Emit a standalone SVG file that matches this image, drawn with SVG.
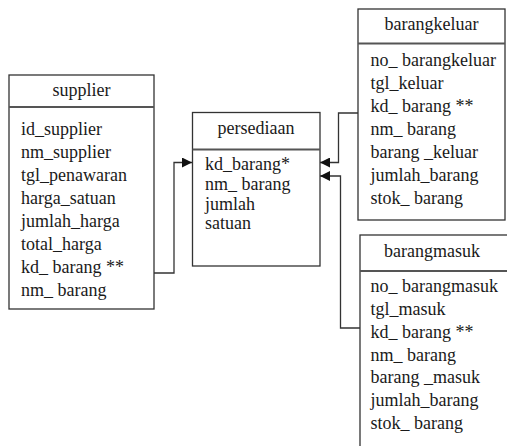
<svg xmlns="http://www.w3.org/2000/svg" width="507" height="446" viewBox="0 0 507 446">
<style>
.box{fill:#fff;stroke:#333;stroke-width:1.3}
.sep{stroke:#555;stroke-width:2}
.t{font-family:"Liberation Serif","Times New Roman",serif;font-size:18px;fill:#1a1a1a}
.h{text-anchor:middle}
.c{fill:none;stroke:#333;stroke-width:1.3}
</style>
<defs>
<marker id="arr" viewBox="0 0 10 10" refX="10" refY="5" markerWidth="10" markerHeight="10" markerUnits="userSpaceOnUse" orient="auto">
<path d="M0,0 L10,5 L0,10 Z" fill="#111"/>
</marker>
</defs>
<rect width="507" height="446" fill="#fff"/>
<g id="connectors">
<path class="c" d="M154,273 H174 V162.5 H192" marker-end="url(#arr)"/>
<path class="c" d="M358,113 H338.5 V162.5 H320" marker-end="url(#arr)"/>
<path class="c" d="M360,328 H340.5 V176 H320" marker-end="url(#arr)"/>
</g>
<g id="supplier">
<rect class="box" x="9" y="75" width="145" height="234"/>
<line class="sep" x1="9" y1="107" x2="154" y2="107"/>
<text class="t h" x="81.5" y="96">supplier</text>
<text class="t" x="21" y="135">id_supplier</text>
<text class="t" x="21" y="158">nm_supplier</text>
<text class="t" x="21" y="181">tgl_penawaran</text>
<text class="t" x="21" y="204">harga_satuan</text>
<text class="t" x="21" y="227">jumlah_harga</text>
<text class="t" x="21" y="250">total_harga</text>
<text class="t" x="21" y="273">kd_ barang **</text>
<text class="t" x="21" y="296">nm_ barang</text>
</g>
<g id="persediaan">
<rect class="box" x="192.5" y="112.5" width="127.5" height="153.5"/>
<line class="sep" x1="192.5" y1="149.5" x2="320" y2="149.5"/>
<text class="t h" x="256" y="134">persediaan</text>
<text class="t" x="205" y="170">kd_barang*</text>
<text class="t" x="205" y="190">nm_ barang</text>
<text class="t" x="205" y="209.5">jumlah</text>
<text class="t" x="205" y="229">satuan</text>
</g>
<g id="barangkeluar">
<rect class="box" x="358" y="9" width="147" height="211"/>
<line class="sep" x1="358" y1="43.5" x2="505" y2="43.5"/>
<text class="t h" x="431.5" y="30">barangkeluar</text>
<text class="t" x="370.5" y="66">no_ barangkeluar</text>
<text class="t" x="370.5" y="89">tgl_keluar</text>
<text class="t" x="370.5" y="112">kd_ barang **</text>
<text class="t" x="370.5" y="135">nm_ barang</text>
<text class="t" x="370.5" y="158">barang _keluar</text>
<text class="t" x="370.5" y="181">jumlah_barang</text>
<text class="t" x="370.5" y="204">stok_ barang</text>
</g>
<g id="barangmasuk">
<rect class="box" x="360" y="235" width="160" height="230"/>
<line class="sep" x1="360" y1="271" x2="520" y2="271"/>
<text class="t h" x="432" y="257">barangmasuk</text>
<text class="t" x="370.5" y="292">no_ barangmasuk</text>
<text class="t" x="370.5" y="315">tgl_masuk</text>
<text class="t" x="370.5" y="337.5">kd_ barang **</text>
<text class="t" x="370.5" y="360.5">nm_ barang</text>
<text class="t" x="370.5" y="383">barang _masuk</text>
<text class="t" x="370.5" y="406">jumlah_barang</text>
<text class="t" x="370.5" y="428.5">stok_ barang</text>
</g>
</svg>
